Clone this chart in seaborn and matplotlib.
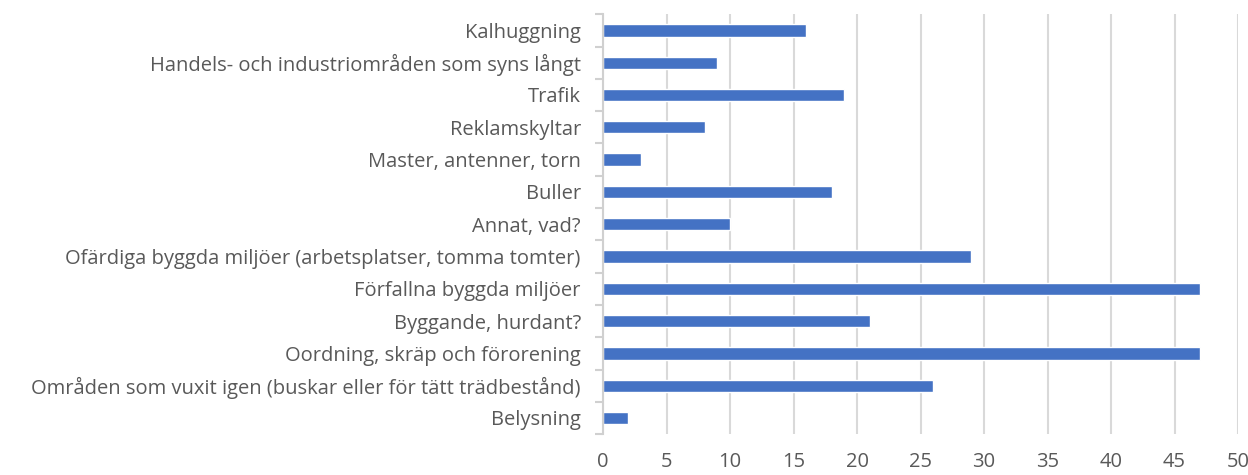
import pandas as pd
import matplotlib.pyplot as plt
import seaborn as sns
import numpy as np

categories = [
    "Kalhuggning",
    "Handels- och industriområden som syns långt",
    "Trafik",
    "Reklamskyltar",
    "Master, antenner, torn",
    "Buller",
    "Annat, vad?",
    "Ofärdiga byggda miljöer (arbetsplatser, tomma tomter)",
    "Förfallna byggda miljöer",
    "Byggande, hurdant?",
    "Oordning, skräp och förorening",
    "Områden som vuxit igen (buskar eller för tätt trädbestånd)",
    "Belysning",
]
values = [16, 9, 19, 8, 3, 18, 10, 29, 47, 21, 47, 26, 2]

df = pd.DataFrame({"kategori": categories, "antal": values})

sns.set_style("white")
plt.rcParams["font.family"] = ["Open Sans", "DejaVu Sans"]

fig = plt.figure(figsize=(12.48, 4.75), dpi=100)
ax = fig.add_axes([0.4832, 0.086, 0.5088, 0.884])

sns.barplot(data=df, x="antal", y="kategori", orient="h", color="#4472C4",
            saturation=1, width=0.38, ax=ax)

ax.set_xlim(0, 50)
ax.set_ylim(len(categories) - 0.5, -0.5)
ax.set_xticks(range(0, 51, 5))
ax.set_xlabel("")
ax.set_ylabel("")
ax.xaxis.grid(True, color="#d9d9d9", linewidth=1.5)
ax.set_axisbelow(True)

for s in ["top", "right", "bottom"]:
    ax.spines[s].set_visible(False)
ax.spines["left"].set_color("#d0d0d0")
ax.spines["left"].set_linewidth(1.5)

# tick marks between the categories
ax.set_yticks(np.arange(-0.5, len(categories), 1), minor=True)
ax.tick_params(axis="y", which="minor", length=6, width=1.5, color="#d0d0d0", left=True)
ax.tick_params(axis="y", which="major", length=0, pad=16, labelsize=14.5, labelcolor="#595959")
ax.tick_params(axis="x", length=0, pad=13, labelsize=14.5, labelcolor="#595959")

fig.savefig("out.png", dpi=100)
